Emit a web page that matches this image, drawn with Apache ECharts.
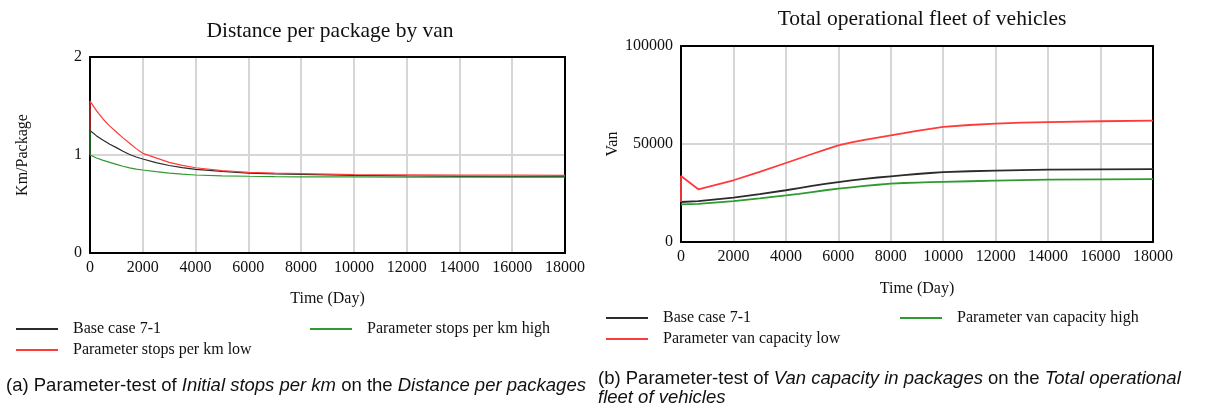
<!DOCTYPE html>
<html>
<head>
<meta charset="utf-8">
<script src="https://cdn.jsdelivr.net/npm/echarts@6/dist/echarts.min.js"></script>
<style>
html,body{margin:0;padding:0;background:#fff;}
#c{width:1208px;height:416px;}
</style>
</head>
<body>
<div id="c"></div>
<script>
// ---- Chart (a): Distance per package by van ----
const timeA = [0, 1, 250, 500, 750, 1000, 1250, 1500, 1750, 2000, 2500, 3000, 3500, 4000, 5000, 6000, 7000, 8000, 10000, 12000, 14000, 16000, 18000];
const baseA = [1.25, 1.25, 1.195, 1.15, 1.11, 1.075, 1.038, 1.005, 0.98, 0.959, 0.922, 0.893, 0.872, 0.854, 0.832, 0.816, 0.808, 0.803, 0.792, 0.786, 0.782, 0.780, 0.779];
const lowA  = [1.25, 1.55, 1.45, 1.365, 1.295, 1.235, 1.175, 1.12, 1.065, 1.017, 0.97, 0.925, 0.895, 0.87, 0.84, 0.823, 0.815, 0.81, 0.80, 0.797, 0.795, 0.794, 0.793];
const highA = [1.25, 1.00, 0.97, 0.945, 0.925, 0.905, 0.885, 0.868, 0.856, 0.847, 0.83, 0.816, 0.805, 0.796, 0.788, 0.783, 0.779, 0.776, 0.776, 0.775, 0.775, 0.775, 0.775];

// ---- Chart (b): Total operational fleet of vehicles ----
const timeB = [0, 1, 660, 2000, 3000, 4000, 4500, 5000, 5500, 6000, 6500, 7000, 7500, 8000, 8500, 9000, 9500, 10000, 11000, 12000, 13000, 14000, 16000, 18000];
const baseB = [20400, 20400, 20900, 22600, 24400, 26400, 27500, 28600, 29600, 30600, 31400, 32200, 32900, 33500, 34100, 34700, 35200, 35700, 36100, 36400, 36700, 36900, 37100, 37200];
const lowB  = [20400, 33700, 26900, 31500, 35800, 40300, 42600, 44900, 47100, 49300, 50800, 52100, 53300, 54400, 55500, 56700, 57700, 58700, 59700, 60400, 60900, 61200, 61600, 61900];
const highB = [19200, 19200, 19500, 20900, 22300, 23800, 24600, 25500, 26400, 27200, 27900, 28600, 29200, 29800, 30100, 30300, 30500, 30700, 31000, 31300, 31600, 31800, 32000, 32100];

const namesA = ['Base case 7-1', 'Parameter stops per km low', 'Parameter stops per km high'];
const namesB = ['Base case 7-1', 'Parameter van capacity low', 'Parameter van capacity high'];
const titles = ['Distance per package by van', 'Total operational fleet of vehicles'];
const xTicks = { min: 0, max: 18000, interval: 2000 };

const pair = (t, v) => t.map((x, i) => [x, v[i]]);
const SERIF = 'Liberation Serif';
const colors = { black: '#2b2b2b', red: '#ff3a3a', green: '#2f9a2f' };
const plain = v => String(v);

function xAxis(gi, gap) {
  return {
    type: 'value', gridIndex: gi, min: xTicks.min, max: xTicks.max, interval: xTicks.interval,
    name: 'Time (Day)', nameLocation: 'middle', nameGap: gap,
    nameTextStyle: { fontFamily: SERIF, fontSize: 16, color: '#111' },
    axisLine: { show: true, lineStyle: { color: '#000', width: 2 } },
    axisTick: { show: false },
    axisLabel: { fontFamily: SERIF, fontSize: 16, color: '#111', margin: 7, formatter: plain },
    splitLine: { show: true, lineStyle: { color: '#d6d6d6', width: 2 } }
  };
}
function xTop(gi) {
  return {
    type: 'value', gridIndex: gi, position: 'top', min: xTicks.min, max: xTicks.max,
    axisLine: { show: true, onZero: false, lineStyle: { color: '#000', width: 2 } },
    axisTick: { show: false }, axisLabel: { show: false }, splitLine: { show: false }
  };
}
function yAxis(gi, max, interval, name, gap) {
  return {
    type: 'value', gridIndex: gi, min: 0, max: max, interval: interval,
    name: name, nameLocation: 'middle', nameGap: gap, nameRotate: 90,
    nameTextStyle: { fontFamily: SERIF, fontSize: 16, color: '#111' },
    axisLine: { show: true, lineStyle: { color: '#000', width: 2 } },
    axisTick: { show: false },
    axisLabel: { fontFamily: SERIF, fontSize: 16, color: '#111', margin: 8, formatter: plain },
    splitLine: { show: true, lineStyle: { color: '#d6d6d6', width: 2 } }
  };
}
function yRight(gi, max) {
  return {
    type: 'value', gridIndex: gi, position: 'right', min: 0, max: max,
    axisLine: { show: true, onZero: false, lineStyle: { color: '#000', width: 2 } },
    axisTick: { show: false }, axisLabel: { show: false }, splitLine: { show: false }
  };
}
function line(name, gi, data, color, w) {
  return {
    type: 'line', name: name, xAxisIndex: gi, yAxisIndex: gi, data: data,
    showSymbol: false, symbol: 'none', smooth: false,
    color: color, lineStyle: { color: color, width: w }, z: 3
  };
}
function legend(name, left, top) {
  return {
    data: [name], left: left, top: top, icon: 'rect', itemWidth: 42, itemHeight: 2,
    selectedMode: false,
    textStyle: { fontFamily: SERIF, fontSize: 16, color: '#111', padding: [0, 0, 0, 10] }
  };
}

const option = {
  backgroundColor: '#fff',
  animation: false,
  title: [
    { text: titles[0], left: 325, textAlign: 'center', top: 15, textStyle: { fontFamily: SERIF, fontSize: 21.5, fontWeight: 'normal', color: '#111' } },
    { text: titles[1], left: 917, textAlign: 'center', top: 3, textStyle: { fontFamily: SERIF, fontSize: 21.5, fontWeight: 'normal', color: '#111' } }
  ],
  grid: [
    { left: 90, top: 57, width: 475, height: 196 },
    { left: 681, top: 46, width: 472, height: 196 }
  ],
  xAxis: [xAxis(0, 38), xAxis(1, 39), xTop(0), xTop(1)],
  yAxis: [yAxis(0, 2, 1, 'Km/Package', 59), yAxis(1, 100000, 50000, 'Van', 60), yRight(0, 2), yRight(1, 100000)],
  legend: [
    legend(namesA[0], 11, 316), legend(namesA[2], 305, 316), legend(namesA[1], 11, 337),
    legend(namesB[0], 601, 305), legend(namesB[2], 895, 305), legend(namesB[1], 601, 326)
  ],
  series: [
    line(namesA[0], 0, pair(timeA, baseA), colors.black, 1.2),
    line(namesA[1], 0, pair(timeA, lowA), colors.red, 1.2),
    line(namesA[2], 0, pair(timeA, highA), colors.green, 1.2),
    line(namesB[0], 1, pair(timeB, baseB), colors.black, 1.8),
    line(namesB[1], 1, pair(timeB, lowB), colors.red, 1.8),
    line(namesB[2], 1, pair(timeB, highB), colors.green, 1.8)
  ],
  graphic: [
    {
      type: 'text', left: 6, top: 376,
      style: {
        text: '{n|(a) Parameter-test of }{i|Initial stops per km}{n| on the }{i|Distance per packages}',
        rich: {
          n: { fontFamily: 'Liberation Sans', fontSize: 18.5, fill: '#111' },
          i: { fontFamily: 'Liberation Sans', fontSize: 18.5, fontStyle: 'italic', fill: '#111' }
        }
      }
    },
    {
      type: 'text', left: 598, top: 369,
      style: {
        text: '{n|(b) Parameter-test of }{i|Van capacity in packages}{n| on the }{i|Total operational}\n{i|fleet of vehicles}',
        rich: {
          n: { fontFamily: 'Liberation Sans', fontSize: 18.5, fill: '#111', lineHeight: 19 },
          i: { fontFamily: 'Liberation Sans', fontSize: 18.5, fontStyle: 'italic', fill: '#111', lineHeight: 19 }
        }
      }
    }
  ]
};

const chart = echarts.init(document.getElementById('c'), null, { renderer: 'canvas' });
chart.setOption(option);
</script>
</body>
</html>
